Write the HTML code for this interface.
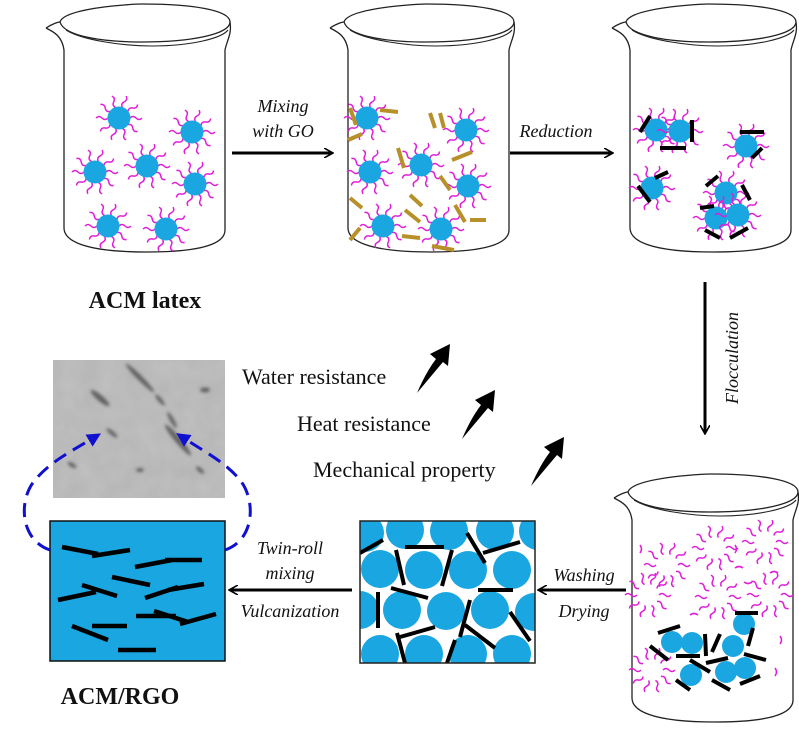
<!DOCTYPE html>
<html><head><meta charset="utf-8"><style>
html,body{margin:0;padding:0;background:#fff;}
svg{display:block;}
text{font-family:"Liberation Serif",serif;fill:#111;}
</style></head><body>
<svg width="799" height="729" viewBox="0 0 799 729" xmlns="http://www.w3.org/2000/svg">
<defs>
<g id="h">
 <path d="M11,0 q3,-3 6,0 t6,0" fill="none" stroke="#e020d8" stroke-width="1.5"/>
</g>
<g id="hair">
 <use href="#h" transform="rotate(0)"/><use href="#h" transform="rotate(36)"/><use href="#h" transform="rotate(72)"/>
 <use href="#h" transform="rotate(108)"/><use href="#h" transform="rotate(144)"/><use href="#h" transform="rotate(180)"/>
 <use href="#h" transform="rotate(216)"/><use href="#h" transform="rotate(252)"/><use href="#h" transform="rotate(288)"/>
 <use href="#h" transform="rotate(324)"/>
</g>
<g id="p"><use href="#hair"/><circle r="11.5" fill="#1aa6e0"/></g>
<g id="bk">
 <path d="M18,22 C22,8 90,4 100,4 C150,4 188,10 188,22 C188,34 150,42 100,42 C60,42 22,36 18,22 Z" fill="none" stroke="#222" stroke-width="1.3"/>
 <path d="M4,28 C10,24 16,22 18,22" fill="none" stroke="#222" stroke-width="1.3"/>
 <path d="M4,28 C12,32 20,36 22,50 L22,228 C22,240 40,252 105,252 C165,252 183,242 183,230 L183,50 C185,40 190,34 188,22" fill="none" stroke="#222" stroke-width="1.3"/>
 <path d="M24,30 C40,40 80,46 110,46 C150,46 180,38 186,30" fill="none" stroke="#222" stroke-width="1.1"/>
</g>
<marker id="ar" markerWidth="10" markerHeight="10" refX="8" refY="5" orient="auto" markerUnits="userSpaceOnUse">
 <path d="M0,0 L9,5 L0,10" fill="none" stroke="#000" stroke-width="1.6"/>
</marker>
<marker id="ab" markerWidth="14" markerHeight="14" refX="7" refY="7" orient="auto" markerUnits="userSpaceOnUse">
 <path d="M0,0 L14,7 L0,14 Z" fill="#1010d0"/>
</marker>
<filter id="bl" x="-50%" y="-50%" width="200%" height="200%"><feGaussianBlur stdDeviation="1.5"/></filter>
<filter id="noise" x="0" y="0" width="100%" height="100%">
 <feTurbulence type="fractalNoise" baseFrequency="0.05" numOctaves="3" seed="4"/>
 <feColorMatrix type="matrix" values="0 0 0 0 0.62  0 0 0 0 0.62  0 0 0 0 0.62  0.5 0 0 0 0"/>
</filter>
<clipPath id="cp"><rect x="360" y="521" width="175" height="142"/></clipPath>
<clipPath id="tc"><rect x="53" y="360" width="172" height="138"/></clipPath>
</defs>

<!-- beakers -->
<use href="#bk" transform="translate(42,0)"/>
<use href="#bk" transform="translate(326,0)"/>
<use href="#bk" transform="translate(608,0)"/>
<use href="#bk" transform="translate(610,470)"/>

<!-- beaker1 -->
<use href="#p" x="119" y="118"/><use href="#p" x="192" y="132"/><use href="#p" x="95" y="172"/>
<use href="#p" x="147" y="166"/><use href="#p" x="195" y="184"/><use href="#p" x="108" y="226"/><use href="#p" x="166" y="229"/>

<!-- beaker2 -->
<use href="#p" x="367" y="118"/><use href="#p" x="466" y="130"/><use href="#p" x="421" y="165"/>
<use href="#p" x="370" y="172"/><use href="#p" x="468" y="186"/><use href="#p" x="383" y="226"/><use href="#p" x="441" y="229"/>
<g stroke="#b8902a" stroke-width="4">
 <line x1="350" y1="108" x2="356" y2="125"/><line x1="380" y1="110" x2="398" y2="112"/><line x1="430" y1="113" x2="435" y2="128"/>
 <line x1="440" y1="113" x2="444" y2="128"/><line x1="348" y1="140" x2="362" y2="134"/><line x1="398" y1="148" x2="404" y2="168"/>
 <line x1="452" y1="160" x2="472" y2="152"/><line x1="440" y1="176" x2="450" y2="190"/><line x1="350" y1="198" x2="362" y2="208"/>
 <line x1="410" y1="195" x2="422" y2="206"/><line x1="360" y1="228" x2="350" y2="240"/><line x1="402" y1="236" x2="420" y2="238"/>
 <line x1="455" y1="205" x2="465" y2="222"/><line x1="470" y1="220" x2="486" y2="220"/><line x1="432" y1="246" x2="454" y2="250"/>
 <line x1="405" y1="210" x2="420" y2="222"/>
</g>

<!-- beaker3 -->
<use href="#p" x="656" y="130"/><use href="#p" x="680" y="131"/><use href="#p" x="746" y="146"/>
<use href="#p" x="652" y="188"/><use href="#p" x="726" y="193"/><use href="#p" x="716" y="218"/><use href="#p" x="738" y="215"/>
<g stroke="#000" stroke-width="4">
 <line x1="640" y1="132" x2="650" y2="116"/><line x1="660" y1="148" x2="686" y2="148"/><line x1="692" y1="120" x2="692" y2="142"/>
 <line x1="740" y1="132" x2="764" y2="132"/><line x1="752" y1="158" x2="762" y2="148"/><line x1="638" y1="186" x2="650" y2="202"/>
 <line x1="655" y1="178" x2="668" y2="172"/><line x1="706" y1="186" x2="718" y2="176"/><line x1="705" y1="230" x2="720" y2="238"/>
 <line x1="730" y1="238" x2="748" y2="228"/><line x1="742" y1="185" x2="750" y2="200"/><line x1="700" y1="208" x2="714" y2="206"/>
</g>

<!-- beaker4 -->
<use href="#hair" x="667" y="565"/><use href="#hair" x="715" y="548"/><use href="#hair" x="765" y="542"/>
<use href="#hair" x="648" y="595"/><use href="#hair" x="718" y="597"/><use href="#hair" x="770" y="595"/><use href="#hair" x="652" y="670"/>
<g fill="none" stroke="#e020d8" stroke-width="1.6">
 <path d="M640,545 q3,4 0,8"/><path d="M735,545 q3,4 0,8"/><path d="M735,568 q4,-3 8,0"/><path d="M690,615 q4,-3 8,0"/>
 <path d="M780,636 q3,4 0,8"/><path d="M770,573 q4,-3 8,0"/><path d="M744,582 q4,3 8,0"/><path d="M775,668 q3,4 0,8"/>
</g>
<g fill="#1aa6e0">
 <circle cx="672" cy="642" r="11"/><circle cx="692" cy="643" r="11"/><circle cx="744" cy="624" r="11"/>
 <circle cx="733" cy="646" r="11"/><circle cx="745" cy="668" r="11"/><circle cx="726" cy="672" r="11"/><circle cx="691" cy="675" r="11"/>
</g>
<g stroke="#000" stroke-width="4">
 <line x1="658" y1="633" x2="680" y2="626"/><line x1="650" y1="646" x2="668" y2="660"/><line x1="676" y1="656" x2="700" y2="656"/>
 <line x1="705" y1="634" x2="706" y2="656"/><line x1="712" y1="652" x2="720" y2="634"/><line x1="735" y1="613" x2="758" y2="613"/>
 <line x1="753" y1="628" x2="748" y2="646"/><line x1="744" y1="654" x2="766" y2="660"/><line x1="706" y1="663" x2="728" y2="658"/>
 <line x1="690" y1="660" x2="710" y2="672"/><line x1="676" y1="680" x2="690" y2="690"/><line x1="712" y1="680" x2="730" y2="690"/>
 <line x1="740" y1="684" x2="760" y2="676"/>
</g>

<!-- packed box -->
<g clip-path="url(#cp)">
 <rect x="360" y="521" width="175" height="142" fill="#fff"/>
 <g fill="#1aa6e0">
  <circle cx="365" cy="533" r="19"/><circle cx="405" cy="530" r="19"/><circle cx="449" cy="531" r="19"/><circle cx="495" cy="531" r="19"/><circle cx="538" cy="531" r="19"/>
  <circle cx="380" cy="569" r="19"/><circle cx="424" cy="570" r="19"/><circle cx="468" cy="570" r="19"/><circle cx="512" cy="570" r="19"/>
  <circle cx="360" cy="610" r="19"/><circle cx="402" cy="610" r="19"/><circle cx="446" cy="611" r="19"/><circle cx="490" cy="610" r="19"/><circle cx="534" cy="612" r="19"/>
  <circle cx="380" cy="654" r="19"/><circle cx="424" cy="654" r="19"/><circle cx="468" cy="654" r="19"/><circle cx="512" cy="654" r="19"/>
 </g>
 <g stroke="#000" stroke-width="4">
  <line x1="360" y1="553" x2="383" y2="540"/><line x1="405" y1="547" x2="444" y2="547"/><line x1="396" y1="550" x2="404" y2="585"/>
  <line x1="452" y1="550" x2="442" y2="586"/><line x1="467" y1="533" x2="485" y2="563"/><line x1="483" y1="553" x2="520" y2="542"/>
  <line x1="391" y1="588" x2="428" y2="598"/><line x1="478" y1="590" x2="513" y2="590"/><line x1="378" y1="592" x2="378" y2="628"/>
  <line x1="470" y1="600" x2="460" y2="637"/><line x1="465" y1="625" x2="495" y2="648"/><line x1="510" y1="612" x2="530" y2="641"/>
  <line x1="400" y1="637" x2="435" y2="627"/><line x1="397" y1="633" x2="405" y2="663"/><line x1="455" y1="640" x2="447" y2="663"/>
 </g>
</g>
<rect x="360" y="521" width="175" height="142" fill="none" stroke="#222" stroke-width="1.5"/>

<!-- TEM image -->
<g clip-path="url(#tc)">
 <rect x="53" y="360" width="172" height="138" fill="#b4b4b4"/>
 <rect x="53" y="360" width="172" height="138" filter="url(#noise)"/>
 <g filter="url(#bl)" fill="#444" opacity="0.75">
  <ellipse cx="100" cy="398" rx="12" ry="3" transform="rotate(40 100 398)"/>
  <ellipse cx="140" cy="378" rx="20" ry="2.5" transform="rotate(45 140 378)"/>
  <ellipse cx="178" cy="440" rx="20" ry="3" transform="rotate(50 178 440)"/>
  <ellipse cx="112" cy="433" rx="7" ry="2" transform="rotate(40 112 433)"/>
  <ellipse cx="205" cy="390" rx="5" ry="2.5"/>
  <ellipse cx="172" cy="420" rx="9" ry="2" transform="rotate(60 172 420)"/>
  <ellipse cx="160" cy="400" rx="7" ry="2" transform="rotate(50 160 400)"/>
  <ellipse cx="72" cy="465" rx="5" ry="2" transform="rotate(30 72 465)"/>
  <ellipse cx="140" cy="470" rx="4" ry="2"/>
  <ellipse cx="200" cy="470" rx="5" ry="2" transform="rotate(40 200 470)"/>
 </g>
</g>

<!-- RGO box -->
<rect x="50" y="521" width="175" height="140" fill="#1aa6e0" stroke="#111" stroke-width="1.5"/>
<g stroke="#000" stroke-width="4.5">
 <line x1="62" y1="547" x2="98" y2="554"/><line x1="92" y1="556" x2="130" y2="550"/><line x1="135" y1="567" x2="172" y2="560"/>
 <line x1="165" y1="560" x2="202" y2="560"/><line x1="112" y1="577" x2="150" y2="585"/><line x1="82" y1="585" x2="117" y2="596"/>
 <line x1="58" y1="600" x2="96" y2="592"/><line x1="145" y1="598" x2="178" y2="587"/><line x1="168" y1="590" x2="204" y2="584"/>
 <line x1="136" y1="616" x2="176" y2="616"/><line x1="154" y1="611" x2="188" y2="622"/><line x1="180" y1="624" x2="216" y2="614"/>
 <line x1="72" y1="626" x2="108" y2="640"/><line x1="92" y1="626" x2="127" y2="626"/><line x1="118" y1="650" x2="156" y2="650"/>
</g>

<!-- dashed blue arcs -->
<path d="M50,550 C20,540 18,500 35,480 C50,462 70,452 95,437" fill="none" stroke="#1010d0" stroke-width="3" stroke-dasharray="14,8" marker-end="url(#ab)"/>
<path d="M225,550 C255,540 256,500 240,480 C225,462 205,452 182,437" fill="none" stroke="#1010d0" stroke-width="3" stroke-dasharray="14,8" marker-end="url(#ab)"/>

<!-- arrows -->
<g stroke="#000" stroke-width="3" fill="none">
 <line x1="232" y1="153" x2="332" y2="153" marker-end="url(#ar)"/>
 <line x1="510" y1="153" x2="612" y2="153" marker-end="url(#ar)"/>
 <line x1="705" y1="282" x2="705" y2="433" marker-end="url(#ar)"/>
 <line x1="626" y1="590" x2="539" y2="590" marker-end="url(#ar)"/>
 <line x1="352" y1="590" x2="230" y2="590" marker-end="url(#ar)"/>
</g>

<!-- arrow labels -->
<g font-style="italic" font-size="18" text-anchor="middle">
 <text x="283" y="112">Mixing</text>
 <text x="283" y="137">with GO</text>
 <text x="556" y="137">Reduction</text>
 <text x="584" y="581">Washing</text>
 <text x="584" y="617">Drying</text>
 <text x="290" y="554">Twin-roll</text>
 <text x="290" y="579">mixing</text>
 <text x="290" y="617">Vulcanization</text>
 <text transform="translate(738,358) rotate(-90)">Flocculation</text>
</g>

<text x="145" y="308" font-size="24" font-weight="bold" text-anchor="middle">ACM latex</text>
<text x="120" y="704" font-size="24" font-weight="bold" text-anchor="middle">ACM/RGO</text>

<g font-size="22">
 <text x="242" y="384">Water resistance</text>
 <text x="297" y="431">Heat resistance</text>
 <text x="313" y="477">Mechanical property</text>
</g>
<g fill="#000">
 <path id="ca" d="M417,393 Q426,372 436,359 L430,354 L450,344 L448,366 L443,362 Q432,375 417,393 Z"/>
 <use href="#ca" x="45" y="46"/>
 <use href="#ca" x="114" y="93"/>
</g>
</svg>
</body></html>
